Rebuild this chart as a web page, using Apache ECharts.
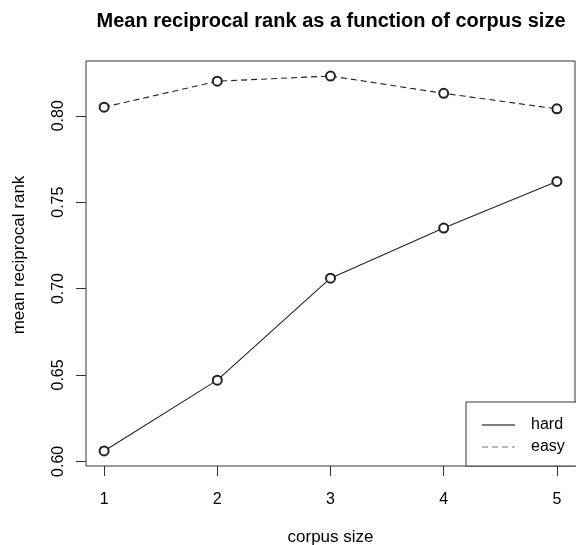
<!DOCTYPE html>
<html>
<head>
<meta charset="utf-8">
<script src="https://cdn.jsdelivr.net/npm/echarts@6/dist/echarts.min.js"></script>
<style>html,body{margin:0;padding:0;background:#fff;}#c{width:576px;height:545px;}</style>
</head>
<body>
<div id="c"></div>
<script>
var corpusSizes = [1, 2, 3, 4, 5];
var hardValues = [0.606, 0.647, 0.706, 0.735, 0.762];
var easyValues = [0.805, 0.820, 0.823, 0.813, 0.804];
var xTicks = [1, 2, 3, 4, 5];
var yTicks = [0.60, 0.65, 0.70, 0.75, 0.80];

var chart = echarts.init(document.getElementById('c'), null, {renderer: 'canvas'});
var font = 'Liberation Sans, Arial, sans-serif';
function pairs(xs, ys) { return xs.map(function (x, i) { return [x, ys[i]]; }); }

chart.setOption({
  animation: false,
  backgroundColor: '#fff',
  title: {
    text: 'Mean reciprocal rank as a function of corpus size',
    left: 326, top: 6, textAlign: 'center',
    textStyle: {fontFamily: font, fontSize: 20, fontWeight: 'bold', color: '#000'}
  },
  grid: {left: 86, right: 1, top: 61, bottom: 79, show: true, borderColor: '#333', borderWidth: 1,
    backgroundColor: 'transparent', containLabel: false, outerBoundsMode: 'none'},
  xAxis: {
    type: 'value', min: 0.84, max: 5.16,
    name: 'corpus size', nameLocation: 'middle', nameGap: 63,
    nameTextStyle: {fontFamily: font, fontSize: 17, color: '#000'},
    axisLine: {show: false},
    splitLine: {show: false},
    axisTick: {show: true, length: 10, lineStyle: {color: '#333'}, customValues: xTicks},
    axisLabel: {customValues: xTicks, fontFamily: font, fontSize: 16, color: '#000', margin: 26}
  },
  yAxis: {
    type: 'value', min: 0.5973, max: 0.8317,
    name: 'mean reciprocal rank', nameLocation: 'middle', nameGap: 58, nameRotate: 90,
    nameTextStyle: {fontFamily: font, fontSize: 17, color: '#000', padding: [0, 0, 0, 17]},
    axisLine: {show: false},
    splitLine: {show: false},
    axisTick: {show: true, length: 10, lineStyle: {color: '#333'}, customValues: yTicks},
    axisLabel: {customValues: yTicks, rotate: 90, fontFamily: font, fontSize: 16, color: '#000', margin: 19,
      formatter: function (v) { return v.toFixed(2); }}
  },
  legend: {
    orient: 'vertical', left: 466, top: 402,
    padding: [15, 60, 11, 16], itemGap: 6,
    itemWidth: 33, itemHeight: 1,
    borderColor: '#333', borderWidth: 1, backgroundColor: '#fff',
    itemStyle: {borderWidth: 0},
    lineStyle: {width: 0},
    textStyle: {fontFamily: font, fontSize: 16, color: '#000', padding: [0, 0, 0, 11]},
    data: [
      {name: 'hard', icon: 'path://M0,0h33v1h-33z', itemStyle: {color: '#000', borderWidth: 0}},
      {name: 'easy', icon: 'path://M0,0h6v1h-6z M10,0h6v1h-6z M20,0h6v1h-6z M30,0h3v1h-3z', itemStyle: {color: '#777', borderWidth: 0}}
    ]
  },
  series: [
    {
      name: 'hard', type: 'line', data: pairs(corpusSizes, hardValues),
      symbol: 'emptyCircle', symbolSize: 9,
      lineStyle: {color: '#222', width: 1.1, type: 'solid'},
      itemStyle: {color: '#222', borderColor: '#222', borderWidth: 1}
    },
    {
      name: 'easy', type: 'line', data: pairs(corpusSizes, easyValues),
      symbol: 'emptyCircle', symbolSize: 9,
      lineStyle: {color: '#222', width: 1.1, type: [6, 4]},
      itemStyle: {color: '#222', borderColor: '#222', borderWidth: 1}
    }
  ]
});
</script>
</body>
</html>
